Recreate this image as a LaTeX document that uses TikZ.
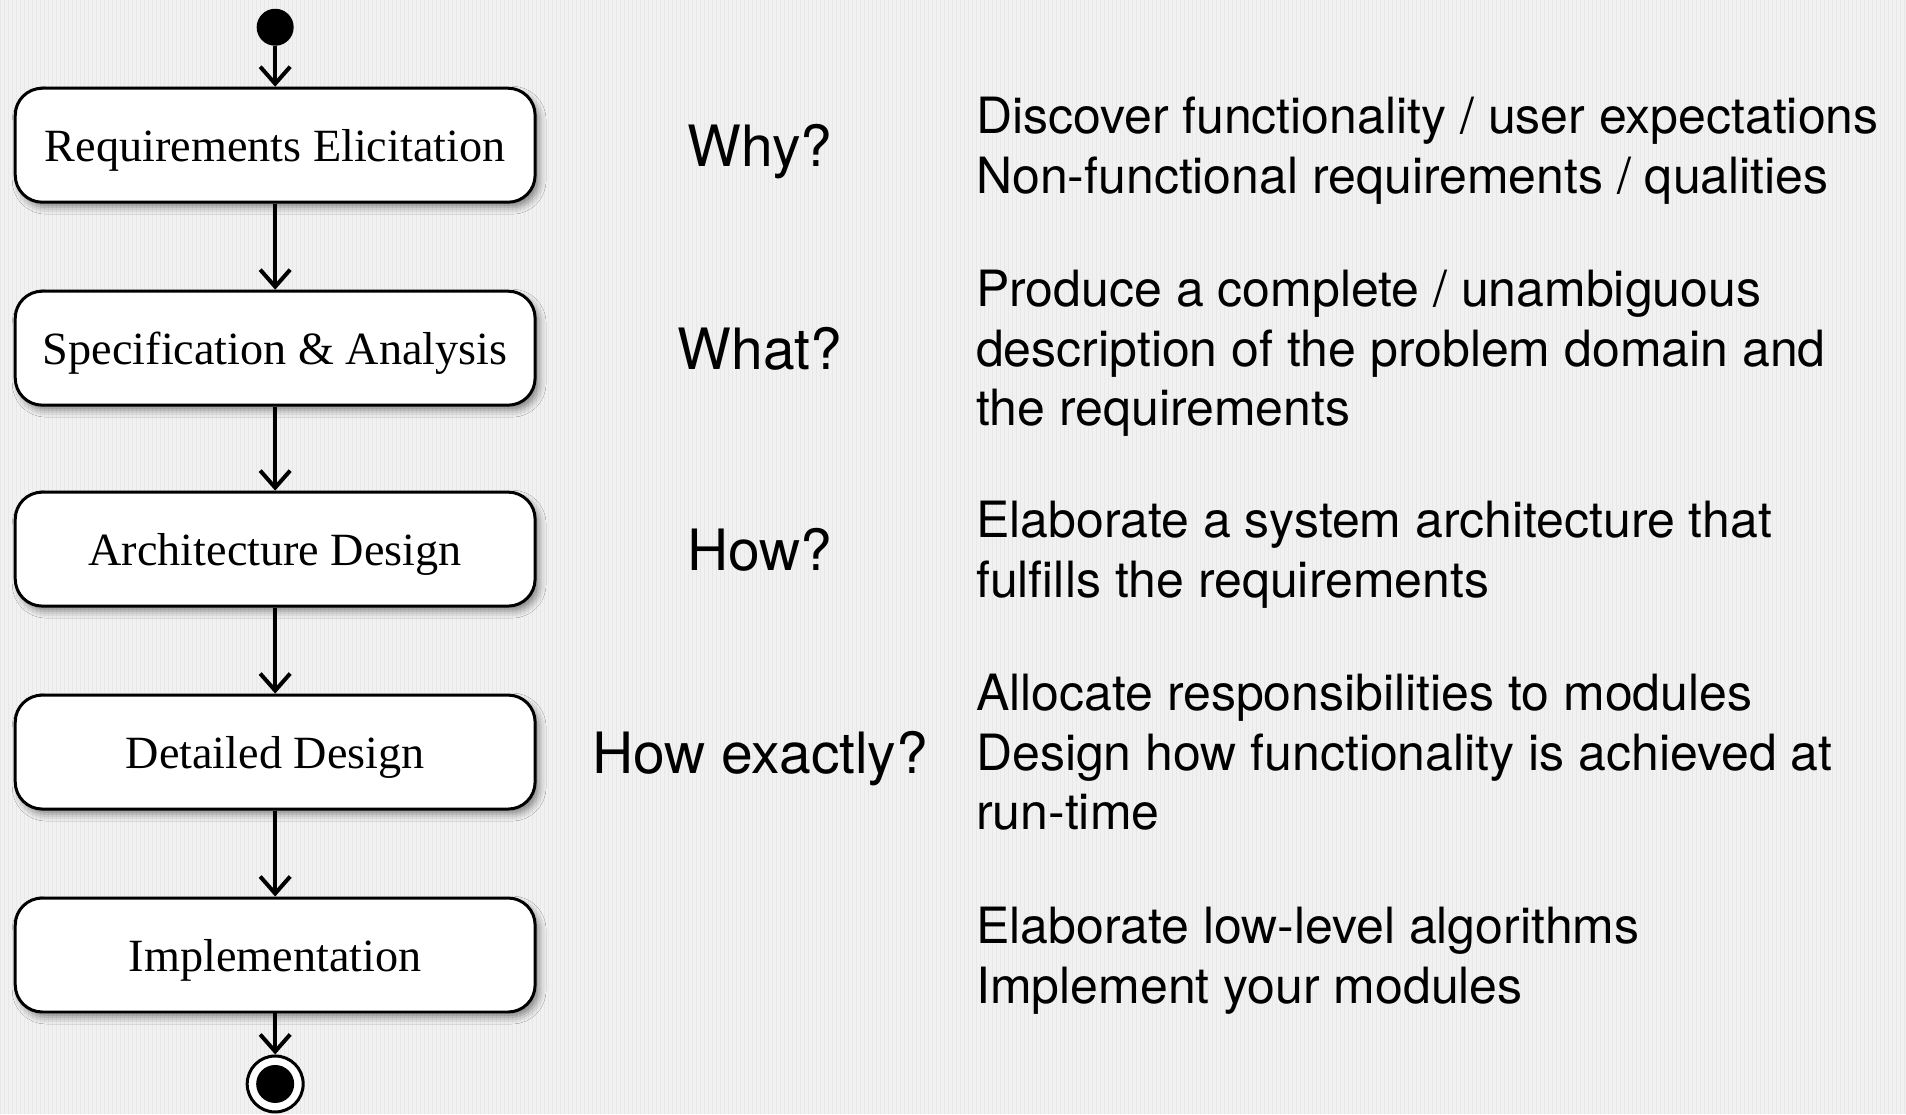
\documentclass[tikz,border=0pt]{standalone}
\usepackage{fontspec}
\setmainfont{Liberation Serif}
\newfontfamily\helv{TeX Gyre Heros}
\usetikzlibrary{arrows.meta,shadows.blur}

\definecolor{paper}{RGB}{241,241,241}
\definecolor{paperline}{RGB}{232,232,232}

\begin{document}
\begin{tikzpicture}[x=1pt,y=-1pt,
  stage/.style={draw=black, line width=3pt, fill=white, rounded corners=27pt,
    minimum width=520pt, minimum height=114pt, inner sep=0pt,
    text height=33.5pt, text depth=0pt,
    font=\fontsize{46.2}{55}\selectfont,
    blur shadow={shadow xshift=4pt, shadow yshift=-5pt,
      shadow blur radius=7pt, shadow opacity=45}},
  flow/.style={-{Straight Barb[length=17pt,width=30pt]}, line width=4pt},
  question/.style={font=\helv\fontsize{57}{68}\selectfont, inner sep=0pt,
    text height=42pt, text depth=0pt},
  detail/.style={anchor=west, align=left, inner sep=0pt, text depth=0pt,
    font=\helv\fontsize{50}{59.6}\selectfont}]

  % paper background with a fine grid
  \fill[paper] (0,0) rectangle (1906,1114);
  \draw[paperline, line width=0.5pt] (0,0) grid[step=4] (1906,1114);
  \useasboundingbox (0,0) rectangle (1906,1114);

  % initial node
  \node (start) [circle, fill=black, minimum size=37pt, inner sep=0pt] at (275,27) {};

  % activity stages
  \node (req)  [stage] at (275,145) {Requirements Elicitation};
  \node (spec) [stage] at (275,348) {Specification \& Analysis};
  \node (arch) [stage] at (275,549) {Architecture Design};
  \node (det)  [stage] at (275,752) {Detailed Design};
  \node (impl) [stage] at (275,955) {Implementation};

  % final node
  \node (stop) [circle, draw=black, line width=3pt, fill=white,
                minimum size=56pt, inner sep=0pt] at (275,1084) {};
  \node (stopdot) [circle, fill=black, minimum size=38pt, inner sep=0pt] at (stop.center) {};

  % control flow
  \draw[flow] (start) -- (req.north);
  \draw[flow] (req.south) -- (spec.north);
  \draw[flow] (spec.south) -- (arch.north);
  \draw[flow] (arch.south) -- (det.north);
  \draw[flow] (det.south) -- (impl.north);
  \draw[flow] (impl.south) -- (stop.north);

  % guiding questions
  \node (qwhy)   [question] at (760,145) {Why?};
  \node (qwhat)  [question] at (760,348) {What?};
  \node (qhow)   [question] at (760,549) {How?};
  \node (qexact) [question] at (760,752) {How exactly?};

  % descriptions of each stage
  \node (dreq)  [detail] at (976,145) {Discover functionality / user expectations\\Non-functional requirements / qualities};
  \node (dspec) [detail] at (976,348) {Produce a complete / unambiguous\\description of the problem domain and\\the requirements};
  \node (darch) [detail] at (976,549) {Elaborate a system architecture that\\fulfills the requirements};
  \node (ddet)  [detail] at (976,752) {Allocate responsibilities to modules\\Design how functionality is achieved at\\run-time};
  \node (dimpl) [detail] at (976,955) {Elaborate low-level algorithms\\Implement your modules};
\end{tikzpicture}
\end{document}
